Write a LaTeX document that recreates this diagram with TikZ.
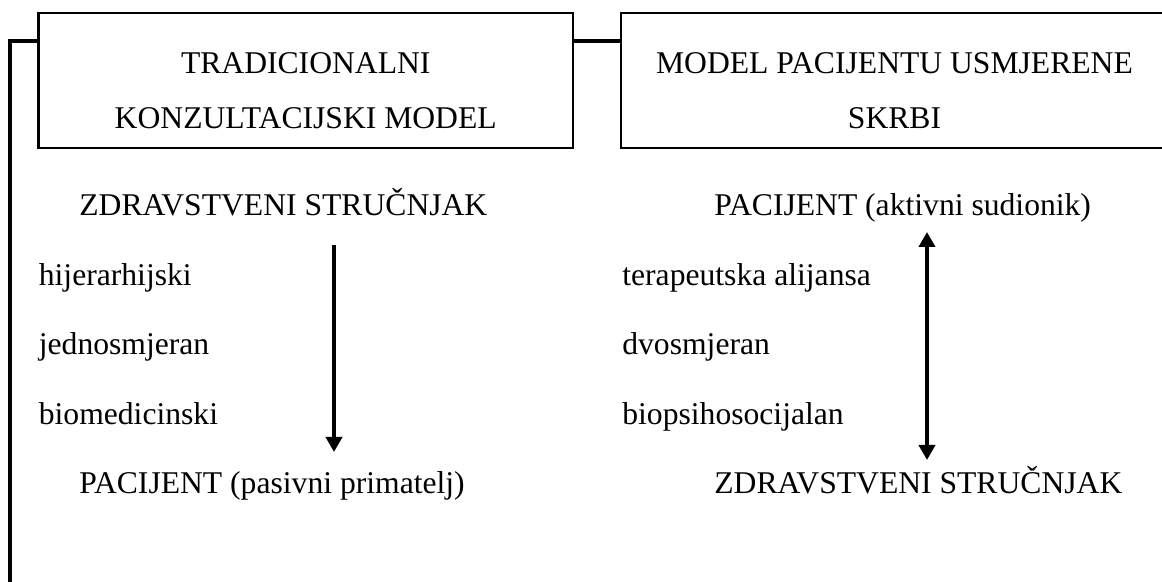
\documentclass[tikz,border=0pt]{standalone}
\usepackage{fontspec}
\setmainfont{Liberation Serif}
\usetikzlibrary{arrows.meta,positioning}

\begin{document}
\begin{tikzpicture}[
  titlebox/.style={draw,rectangle,line width=1.5pt,minimum height=2.7cm},
  titletext/.style={align=center,inner sep=0pt,font=\fontsize{18}{31.3}\selectfont},
  txt/.style={anchor=base west,inner sep=0pt,font=\fontsize{18}{21}\selectfont},
  flow/.style={line width=2.5pt,-{Triangle[length=0.3cm,width=0.32cm]}},
  frame/.style={line width=2.2pt}
]
\useasboundingbox (0,0) rectangle (23.24,11.64);

% naslovi
\node[titlebox,minimum width=10.69cm] (lbox) at (6.115,10.03) {};
\node[titlebox,minimum width=11.2cm] (rbox) at (18.02,10.03) {};
\node[titletext] (ltitle) at ([yshift=-0.2cm]lbox.center) {TRADICIONALNI\\KONZULTACIJSKI MODEL};
\node[titletext] (rtitle) at ([yshift=-0.2cm,xshift=-0.13cm]rbox.center) {MODEL PACIJENTU USMJERENE\\SKRBI};

% okvir
\coordinate (frametop) at (0.2,10.82);
\coordinate (framebot) at (0.2,-0.1);
\draw[frame] (framebot) -- (frametop) -- (frametop -| lbox.west);
\draw[frame] (lbox.east |- frametop) -- (rbox.west |- frametop);

% lijevo
\node[txt] (lhead) at (1.58,7.32) {ZDRAVSTVENI STRUČNJAK};
\node[txt] (lone) at (0.77,5.92) {hijerarhijski};
\node[txt] (ltwo) at (0.77,4.54) {jednosmjeran};
\node[txt] (lthree) at (0.77,3.14) {biomedicinski};
\node[txt] (lfoot) at (1.58,1.76) {PACIJENT (pasivni primatelj)};
\coordinate (ltop) at (6.68,6.74);
\coordinate (lbot) at (6.68,2.6);
\draw[flow] (ltop) -- (lbot);

% desno
\node[txt] (rhead) at (14.28,7.32) {PACIJENT (aktivni sudionik)};
\node[txt] (rone) at (12.44,5.92) {terapeutska alijansa};
\node[txt] (rtwo) at (12.44,4.54) {dvosmjeran};
\node[txt] (rthree) at (12.44,3.14) {biopsihosocijalan};
\node[txt] (rfoot) at (14.28,1.76) {ZDRAVSTVENI STRUČNJAK};
\coordinate (rtop) at (18.54,7.0);
\coordinate (rbot) at (18.54,2.44);
\draw[flow,{Triangle[length=0.3cm,width=0.32cm]}-{Triangle[length=0.3cm,width=0.32cm]}] (rtop) -- (rbot);
\end{tikzpicture}
\end{document}
